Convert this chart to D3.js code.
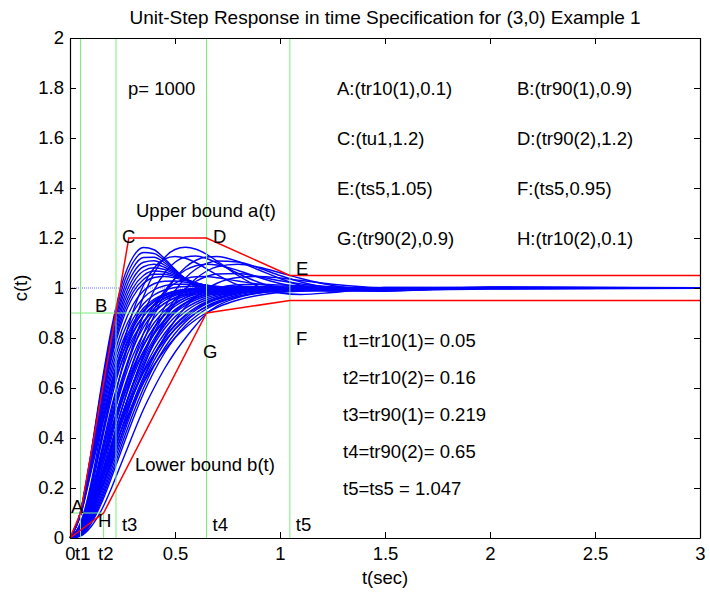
<!DOCTYPE html>
<html><head><meta charset="utf-8">
<script src="https://cdn.jsdelivr.net/npm/d3@7"></script>
<style>body{margin:0;background:#fff} svg text{font-family:"Liberation Sans",Arial,Helvetica,sans-serif}</style>
</head><body>
<svg id="c" width="710" height="596"></svg>
<script>
// ---- data ----
const T = [0,.05,.1,.15,.2,.25,.3,.35,.4,.45,.5,.55,.6,.65,.7,.8,.9,1.0,1.1,1.25,1.5,2,3];

// fast group (peaks around t=0.35-0.5)
const groupA = [
 [0,.104,.340,.611,.849,1.024,1.124,1.162,1.153,1.118,1.075,1.034,1.002,.983,.974,.979,.993,1.002,1.004,1.001,1.0,1,1],
 [0,.104,.335,.600,.832,1.002,1.102,1.142,1.138,1.110,1.072,1.036,1.007,.988,.980,.982,.993,1.001,1.003,1.001,1,1,1],
 [0,.103,.331,.589,.815,.980,1.080,1.122,1.123,1.101,1.069,1.038,1.012,.996,.987,.986,.993,1.0,1.002,1.001,1,1,1],
 [0,.102,.327,.579,.799,.961,1.059,1.103,1.109,1.092,1.065,1.038,1.015,1.0,.991,.988,.994,.999,1.001,1,1,1,1],
 [0,.101,.322,.569,.783,.941,1.038,1.085,1.095,1.083,1.061,1.038,1.018,1.004,.996,.991,.995,.999,1.0,1,1,1,1],
 [0,.101,.318,.560,.768,.923,1.019,1.068,1.081,1.074,1.056,1.037,1.019,1.007,.999,.993,.995,.998,1.0,1,1,1,1],
 [0,.100,.314,.550,.753,.904,1.000,1.050,1.068,1.064,1.051,1.035,1.020,1.009,1.001,.996,.996,.998,1.0,1,1,1,1],
 [0,.100,.310,.541,.740,.887,.983,1.034,1.055,1.055,1.046,1.033,1.020,1.010,1.003,.998,.997,.998,1.0,1,1,1,1],
 [0,.099,.306,.531,.726,.870,.965,1.019,1.042,1.046,1.040,1.030,1.020,1.011,1.005,.999,.999,.999,1.0,1,1,1,1],
 [0,.097,.298,.514,.700,.839,.933,.989,1.017,1.027,1.028,1.023,1.017,1.011,1.006,1.001,1.0,1,1,1,1,1,1]
];
// well damped group
const groupM = [
 [0,.096,.291,.498,.676,.811,.903,.961,.993,1.009,1.015,1.015,1.012,1.009,1.006,1.002,1.0,1,1,1,1,1,1],
 [0,.095,.284,.484,.654,.785,.877,.937,.972,.992,1.002,1.006,1.006,1.005,1.004,1.002,1.0,1,1,1,1,1,1],
 [0,.093,.277,.469,.632,.758,.849,.910,.949,.973,.988,.995,.999,1.001,1.001,1.001,1,1,1,1,1,1,1],
 [0,.092,.271,.456,.613,.736,.826,.888,.930,.957,.975,.985,.991,.995,.997,.999,1,1,1,1,1,1,1],
 [0,.090,.264,.442,.594,.713,.801,.864,.908,.939,.960,.973,.983,.989,.993,.997,.999,1,1,1,1,1,1],
 [0,.050,.180,.330,.485,.630,.757,.858,.932,.985,1.019,1.037,1.045,1.046,1.041,1.028,1.015,1.005,1.0,.999,1,1,1],
 [0,.040,.130,.250,.370,.498,.610,.705,.787,.850,.903,.940,.968,.988,1.0,1.013,1.015,1.012,1.009,1.004,1.0,1,1],
 [0,.050,.160,.295,.430,.553,.660,.748,.815,.868,.910,.938,.960,.975,.985,.996,1.0,1.001,1.001,1,1,1,1],
 [0,.050,.164,.304,.445,.573,.683,.772,.842,.896,.935,.962,.981,.993,1.0,1.006,1.006,1.004,1.003,1.001,1,1,1],
 [0,.036,.125,.238,.355,.469,.570,.662,.735,.800,.849,.888,.918,.942,.958,.983,.994,.999,1.001,1.001,1.0,1,1],
 [0,.043,.139,.255,.373,.483,.580,.663,.733,.789,.835,.872,.901,.924,.941,.966,.980,.989,.994,.997,.999,1,1],
 [0,.037,.122,.228,.337,.442,.537,.620,.692,.751,.801,.841,.874,.901,.922,.952,.971,.983,.990,.995,.999,.998,1]
];
// slower group with late overshoot
const groupB = [
 [0,.049,.171,.336,.515,.688,.841,.966,1.059,1.121,1.154,1.163,1.155,1.135,1.108,1.050,1.005,.980,.974,.982,1.002,1.003,1],
 [0,.045,.155,.305,.469,.628,.772,.893,.990,1.060,1.103,1.124,1.128,1.118,1.100,1.058,1.022,.998,.988,.988,.999,1.001,1],
 [0,.034,.122,.244,.383,.526,.662,.785,.889,.974,1.038,1.083,1.111,1.124,1.126,1.106,1.072,1.038,1.010,.988,.987,1.004,1.001],
 [0,.031,.111,.224,.352,.486,.615,.733,.836,.922,.989,1.040,1.076,1.098,1.108,1.104,1.080,1.050,1.024,.999,.989,1.002,1],
 [0,.028,.101,.204,.322,.447,.568,.682,.783,.870,.940,.997,1.038,1.067,1.085,1.095,1.083,1.061,1.038,1.010,.992,.996,.999],
 [0,.040,.139,.274,.422,.568,.703,.819,.914,.987,1.038,1.072,1.089,1.095,1.092,1.070,1.042,1.018,1.002,.992,.995,.998,1],
 [0,.034,.118,.234,.364,.494,.617,.727,.820,.896,.954,.998,1.027,1.046,1.056,1.058,1.045,1.029,1.016,1.004,.998,1,1],
 [0,.028,.098,.195,.306,.420,.531,.634,.726,.805,.870,.924,.965,.996,1.019,1.042,1.046,1.040,1.030,1.015,1.001,.999,1],
 [0,.061,.208,.396,.589,.763,.906,1.011,1.079,1.116,1.126,1.119,1.101,1.077,1.053,1.012,.990,.984,.987,.996,1.002,1,1]
];
// delayed monotone group
const groupS = [
 [0,.008,.045,.112,.205,.31,.415,.515,.60,.677,.743,.80,.852,.898,.928,.962,.980,.990,.995,.998,1,1,1],
 [0,.010,.057,.140,.247,.362,.475,.578,.666,.740,.801,.850,.887,.916,.938,.966,.983,.991,.995,.998,1,1,1],
 [0,.010,.062,.150,.262,.382,.497,.599,.688,.760,.818,.864,.900,.927,.946,.972,.986,.993,.996,.999,1,1,1],
 [0,.011,.068,.161,.279,.403,.520,.622,.709,.780,.836,.879,.912,.937,.954,.977,.989,.995,.997,.999,1,1,1],
 [0,.013,.072,.173,.296,.424,.542,.645,.731,.799,.853,.893,.923,.945,.961,.981,.991,.996,.998,1,1,1,1],
 [0,.014,.078,.186,.315,.446,.567,.669,.753,.818,.869,.906,.934,.953,.967,.985,.993,.997,.999,1,1,1,1],
 [0,.015,.085,.200,.336,.470,.592,.693,.775,.837,.885,.919,.943,.961,.973,.988,.995,.998,.999,1,1,1,1],
 [0,.017,.093,.216,.358,.496,.618,.719,.797,.857,.900,.931,.953,.968,.979,.991,.996,.999,1,1,1,1,1],
 [0,.018,.102,.233,.382,.524,.645,.743,.818,.874,.914,.942,.961,.974,.983,.993,.997,.999,1,1,1,1,1],
 [0,.022,.112,.252,.407,.552,.673,.768,.840,.891,.927,.952,.968,.980,.987,.995,.998,1,1,1,1,1,1],
 [0,.024,.123,.273,.435,.582,.701,.794,.860,.908,.940,.961,.975,.985,.990,.996,.999,1,1,1,1,1,1],
 [0,.027,.136,.296,.465,.613,.731,.818,.880,.923,.951,.969,.981,.988,.993,.997,.999,1,1,1,1,1,1],
 [0,.030,.150,.322,.497,.645,.760,.843,.900,.938,.961,.977,.986,.992,.995,.998,1,1,1,1,1,1,1],
 [0,.035,.167,.350,.531,.679,.789,.866,.917,.950,.970,.982,.990,.994,.996,.999,1,1,1,1,1,1,1],
 [0,.039,.186,.382,.567,.714,.818,.889,.934,.961,.978,.988,.993,.996,.998,1,1,1,1,1,1,1,1],
 [0,.044,.201,.406,.594,.739,.840,.905,.944,.968,.982,.991,.995,.997,.998,1,1,1,1,1,1,1,1],
 [0,.048,.219,.434,.624,.765,.860,.920,.955,.975,.987,.993,.996,.998,.999,1,1,1,1,1,1,1,1]
];

const tMarks = {t1:0.05, t2:0.16, t3:0.219, t4:0.65, t5:1.047};
const upperBound = [[0,0],[0.05,0.1],[0.219,0.9],[0.28,1.2],[0.65,1.2],[1.047,1.05],[3,1.05]];
const lowerBound = [[0,0],[0.16,0.1],[0.65,0.9],[1.047,0.95],[3,0.95]];
const xTicks = [0,0.5,1,1.5,2,2.5,3];
const xTickLabels = ["0","0.5","1","1.5","2","2.5","3"];
const yTicks = [0,0.2,0.4,0.6,0.8,1,1.2,1.4,1.6,1.8,2];
const yTickLabels = ["0","0.2","0.4","0.6","0.8","1","1.2","1.4","1.6","1.8","2"];
const infoLeft = ["A:(tr10(1),0.1)","C:(tu1,1.2)","E:(ts5,1.05)","G:(tr90(2),0.9)"];
const infoRight = ["B:(tr90(1),0.9)","D:(tr90(2),1.2)","F:(ts5,0.95)","H:(tr10(2),0.1)"];
const infoTimes = ["t1=tr10(1)= 0.05","t2=tr10(2)= 0.16","t3=tr90(1)= 0.219","t4=tr90(2)= 0.65","t5=ts5 = 1.047"];

// ---- drawing ----
const FS = 18.5;
const svg = d3.select('#c');
svg.append('rect').attr('width',710).attr('height',596).attr('fill','#fff');
const x = d3.scaleLinear().domain([0,3]).range([70,700]);
const y = d3.scaleLinear().domain([0,2]).range([538,38]);

// unit reference line
svg.append('line').attr('x1',x(0)).attr('x2',x(3)).attr('y1',y(1)).attr('y2',y(1))
  .attr('stroke','#6a6aff').attr('stroke-width',1).attr('stroke-dasharray','1,1');

// responses
const curves = [...groupA, ...groupM, ...groupB, ...groupS];
const resp = d3.line().x((d,i)=>x(T[i])).y(d=>y(d)).curve(d3.curveMonotoneX);
svg.append('g').selectAll('path').data(curves).join('path')
  .attr('d', resp).attr('fill','none').attr('stroke','#0000ff').attr('stroke-width',1.4);

// green guide lines
const G = svg.append('g').attr('stroke','#7aee7a').attr('stroke-width',1).attr('fill','none');
[tMarks.t1, tMarks.t3, tMarks.t4, tMarks.t5].forEach(t=>{
  G.append('line').attr('x1',x(t)).attr('x2',x(t)).attr('y1',y(0)).attr('y2',y(2));
});
G.append('line').attr('x1',x(tMarks.t2)).attr('x2',x(tMarks.t2)).attr('y1',y(0)).attr('y2',y(0.1));
G.append('line').attr('x1',x(0)).attr('x2',x(tMarks.t2)).attr('y1',y(0.1)).attr('y2',y(0.1));
G.append('line').attr('x1',x(0)).attr('x2',x(tMarks.t4)).attr('y1',y(0.9)).attr('y2',y(0.9));

// bounds
const bl = d3.line().x(d=>x(d[0])).y(d=>y(d[1]));
[upperBound, lowerBound].forEach(b=>{
  svg.append('path').attr('d', bl(b)).attr('fill','none').attr('stroke','#ff0000').attr('stroke-width',1.5);
});

// axes
function styleAxis(g){
  g.attr('font-size',FS).attr('font-family','"Liberation Sans",Arial,sans-serif');
  g.select('.domain').attr('stroke','#000').attr('stroke-width',1.2);
  g.selectAll('.tick line').attr('stroke','#000');
  g.selectAll('.tick text').attr('fill','#000');
}
svg.append('g').attr('transform','translate(0,538)')
  .call(d3.axisBottom(x).tickValues(xTicks).tickFormat((d,i)=>xTickLabels[i]).tickSizeInner(-6).tickSizeOuter(0).tickPadding(9))
  .call(styleAxis);
svg.append('g').attr('transform','translate(0,38)')
  .call(d3.axisTop(x).tickValues(xTicks).tickFormat('').tickSizeInner(-6).tickSizeOuter(0))
  .call(styleAxis);
svg.append('g').attr('transform','translate(70,0)')
  .call(d3.axisLeft(y).tickValues(yTicks).tickFormat((d,i)=>yTickLabels[i]).tickSizeInner(-6).tickSizeOuter(0).tickPadding(6))
  .call(styleAxis);
svg.append('g').attr('transform','translate(700,0)')
  .call(d3.axisRight(y).tickValues(yTicks).tickFormat('').tickSizeInner(-6).tickSizeOuter(0))
  .call(styleAxis);

// text
function txt(px,py,s,opt={}){
  const t = svg.append('text').attr('x',px).attr('y',py).text(s)
    .attr('font-size',opt.size||FS).attr('fill','#000')
    .attr('text-anchor',opt.anchor||'start');
  if(opt.rotate) t.attr('transform',`rotate(${opt.rotate},${px},${py})`);
  return t;
}
txt(385,24,"Unit-Step Response in time Specification for (3,0) Example 1",{anchor:'middle',size:19});
txt(385,584,"t(sec)",{anchor:'middle'});
txt(27,288,"c(t)",{anchor:'middle',rotate:-90});

txt(128,94.5,"p= 1000");
infoLeft.forEach((s,i)=>txt(337,94.5+i*50,s));
infoRight.forEach((s,i)=>txt(517,94.5+i*50,s));
infoTimes.forEach((s,i)=>txt(343,347+i*37,s));
txt(136,217,"Upper bound a(t)");
txt(135,471,"Lower bound b(t)");

// point letters
txt(71,513,"A"); txt(95,312,"B"); txt(122,243,"C"); txt(213,243,"D");
txt(296,275,"E"); txt(296,345,"F"); txt(203,358,"G"); txt(98,527,"H");
// time marks
txt(75,560,"t1"); txt(98,560,"t2");
txt(x(tMarks.t3)+6,531,"t3"); txt(x(tMarks.t4)+6,531,"t4"); txt(x(tMarks.t5)+6,531,"t5");
</script>
</body></html>
